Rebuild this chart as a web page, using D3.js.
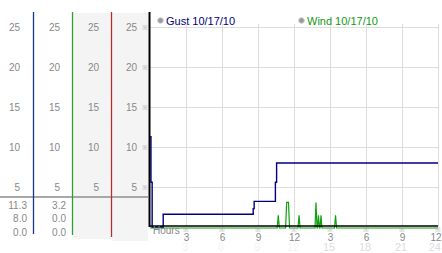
<!DOCTYPE html>
<html>
<head>
<meta charset="utf-8">
<title>gust / wind</title>
<script src="https://d3js.org/d3.v7.min.js"></script>
<style>
body { margin: 0; background: #fff; }
svg { display: block; font-family: "Liberation Sans", Arial, sans-serif; }
.lbl text { fill: #888; font-size: 10px; }
.lbl path.domain { display: none; }
.grid line { stroke: #ddd; stroke-width: 1; shape-rendering: crispEdges; }
</style>
</head>
<body>
<svg id="chart" width="442" height="253"></svg>
<script>
// y axis ticks for the four columns
const yTicks = [5, 10, 15, 20, 25];
// x axis (hours since start)
const xTicks = [3, 6, 9, 12, 15, 18, 21, 24];
const xTickLabels = ['3', '6', '9', '12', '3', '6', '9', '12'];
const xTickLabels24 = ['3', '6', '9', '12', '15', '18', '21', '24'];

// summary numbers under the columns (max, last, min)
const gustStats = ['11.3', '8.0', '0.0'];
const windStats = ['3.2', '0.0', '0.0'];

// Gust series (step after)
const gustHours = [0, 0.08, 0.18, 1.1, 8.6, 8.68, 10.45, 10.55, 24];
const gustValues = [11.3, 5.6, 0, 1.6, 2.3, 3.2, 5.6, 8.0, 8.0];

// Wind series
const windHours = [0, 10.6, 10.69, 10.78, 11.3, 11.39, 11.54, 11.63, 12.33, 12.42, 12.51,
  13.75, 13.83, 13.92, 13.96, 14.04, 14.12, 14.17, 14.25, 14.33, 15.38, 15.46, 15.55, 24];
const windValues = [0, 0, 1.6, 0, 0, 3.2, 3.2, 0, 0, 1.6, 0,
  0, 3.2, 0, 0, 1.6, 0, 0, 1.6, 0, 0, 1.6, 0, 0];

const legendNames = ['Gust 10/17/10', 'Wind 10/17/10'];

const svg = d3.select('#chart');
const x = d3.scaleLinear().domain([0, 24]).range([150, 438]);
const y = d3.scaleLinear().domain([0, 25]).range([227, 27]);

// column backgrounds
svg.append('rect').attr('x', 73).attr('y', 13).attr('width', 38).attr('height', 226).attr('fill', '#f4f4f4');
svg.append('rect').attr('x', 112).attr('y', 13).attr('width', 36).attr('height', 228).attr('fill', '#f4f4f4');

// grid
const grid = svg.append('g').attr('class', 'grid');
grid.selectAll('line.h').data(yTicks).join('line')
  .attr('x1', x(0)).attr('x2', x(24))
  .attr('y1', d => Math.round(y(d)) + 0.5).attr('y2', d => Math.round(y(d)) + 0.5);
grid.selectAll('line.v').data(xTicks).join('line')
  .attr('x1', d => Math.round(x(d)) + 0.5).attr('x2', d => Math.round(x(d)) + 0.5)
  .attr('y1', 24).attr('y2', y(0));

// separator line on the left
svg.append('line').attr('x1', 0).attr('x2', 148).attr('y1', 197).attr('y2', 197)
  .attr('stroke', '#a8a8a8').attr('stroke-width', 2);

// column vertical lines
const colLines = [[33.5, '#1a3590', 234], [72.5, '#2f9f2f', 235], [111.5, '#b03030', 237]];
colLines.forEach(c => {
  svg.append('line').attr('x1', c[0]).attr('x2', c[0]).attr('y1', 12).attr('y2', c[2])
    .attr('stroke', c[1]).attr('stroke-width', 1.3);
});

// y labels in each column
[20, 60, 99, 137].forEach(rx => {
  svg.append('g').attr('class', 'lbl')
    .attr('transform', `translate(${rx + 2},0)`)
    .call(d3.axisLeft(y).tickValues(yTicks).tickSize(0).tickPadding(2));
});
svg.selectAll('text.ym').data(yTicks).join('text').attr('class', 'ym')
  .attr('x', 145).attr('y', d => y(d) + 2.5).attr('text-anchor', 'middle')
  .attr('font-size', 7).attr('fill', '#aaa').text('※');

// stats
[[gustStats, 27], [windStats, 66]].forEach(s => {
  svg.selectAll(null).data(s[0]).join('text')
    .attr('x', s[1]).attr('y', (d, i) => 208.5 + i * 13.5)
    .attr('text-anchor', 'end').attr('font-size', 10).attr('fill', '#888')
    .text(d => d);
});

// series
const gustLine = d3.line().x((d, i) => x(gustHours[i])).y(d => y(d)).curve(d3.curveStepAfter);
const windLine = d3.line().x((d, i) => x(windHours[i])).y(d => y(d));
svg.append('path').attr('d', windLine(windValues)).attr('fill', 'none')
  .attr('stroke', '#11a011').attr('stroke-width', 1.2).attr('transform', 'translate(0,1)');
svg.append('path').attr('d', gustLine(gustValues)).attr('fill', 'none')
  .attr('stroke', '#000080').attr('stroke-width', 1.4);

// axes lines
svg.append('line').attr('x1', 149.5).attr('x2', 149.5).attr('y1', 12).attr('y2', 227)
  .attr('stroke', '#000').attr('stroke-width', 2);
svg.append('line').attr('x1', 149).attr('x2', 438).attr('y1', 226).attr('y2', 226)
  .attr('stroke', '#000').attr('stroke-width', 1.5);

// x labels
const last = xTicks.length - 1;
const xg = svg.append('g').attr('class', 'lbl').attr('transform', 'translate(0,233)')
  .call(d3.axisBottom(x).tickValues(xTicks).tickSize(0).tickPadding(0)
    .tickFormat((d, i) => xTickLabels[i]));
xg.selectAll('text').attr('dy', '0.75em').attr('font-size', 11)
  .filter((d, i) => i === last).attr('text-anchor', 'end').attr('x', 3);
svg.selectAll('text.xm').data(xTicks).join('text').attr('class', 'xm')
  .attr('x', d => x(d)).attr('y', 232).attr('text-anchor', 'middle')
  .attr('font-size', 7).attr('fill', '#aaa').text('※');
svg.selectAll('text.x24').data(xTicks).join('text').attr('class', 'x24')
  .attr('x', (d, i) => i === last ? 441 : x(d) - 1).attr('y', 251)
  .attr('text-anchor', (d, i) => i === last ? 'end' : 'middle')
  .attr('font-size', 11).attr('fill', (d, i) => i < 4 ? '#f3f3f3' : '#dcdcdc')
  .text((d, i) => xTickLabels24[i]);
svg.append('text').attr('x', 153).attr('y', 234).attr('font-size', 10).attr('fill', '#888').text('Hours');

// legend
const legend = [[160.5, legendNames[0], '#000080'], [301.5, legendNames[1], '#109a10']];
legend.forEach(l => {
  svg.append('circle').attr('cx', l[0]).attr('cy', 20.5).attr('r', 2.8)
    .attr('fill', '#999').attr('stroke', '#ccc').attr('stroke-width', 1);
  svg.append('text').attr('x', l[0] + 5.5).attr('y', 24.5).attr('font-size', 11)
    .attr('fill', l[2]).text(l[1]);
});
</script>
</body>
</html>
